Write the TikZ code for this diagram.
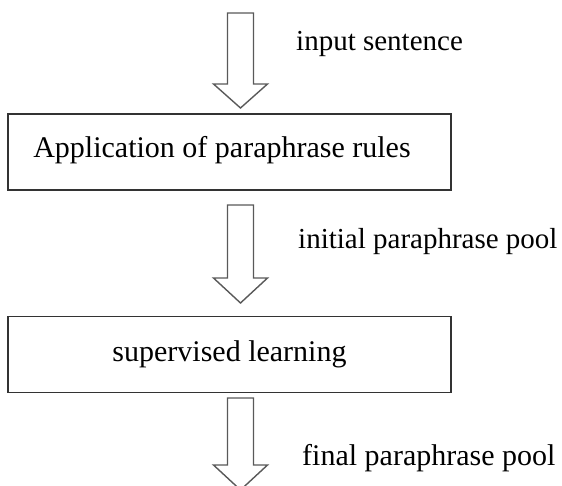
\documentclass[tikz,border=0pt]{standalone}
\usepackage{fontspec}
\setmainfont{Liberation Serif}
\begin{document}
\begin{tikzpicture}[x=1pt,y=-1pt,
  box/.style={draw=black!80,line width=1.8pt,minimum width=443pt,minimum height=76pt,inner sep=0pt,font=\fontsize{30}{36}\selectfont},
  lbl/.style={anchor=base west,inner sep=0pt,font=\fontsize{29}{35}\selectfont},
  barrow/.style={draw=black!65,line width=1.4pt,line join=miter,fill=white}]
\useasboundingbox (0,0) rectangle (562,485);
\node[box] (b1) at (229.5,152) {};
\node[inner sep=0pt,font=\fontsize{30}{36}\selectfont] (t1) at (222,150) {Application of paraphrase rules};
\node[box] (b2) at (229.5,354.5) {supervised learning};
% block arrows
\draw[barrow] (227.5,13) -- (253.5,13) -- (253.5,84) -- (267.5,84) -- (240.5,108) -- (213.5,84) -- (227.5,84) -- cycle;
\draw[barrow] (227.5,205) -- (253.5,205) -- (253.5,278) -- (267.5,278) -- (240.5,303) -- (213.5,278) -- (227.5,278) -- cycle;
\draw[barrow] (227.5,398) -- (253.5,398) -- (253.5,465) -- (267.5,465) -- (240.5,490) -- (213.5,465) -- (227.5,465) -- cycle;
\node[lbl] (l1) at (296,50) {input sentence};
\node[lbl] (l2) at (298,248) {initial paraphrase pool};
\node[lbl,font=\fontsize{30}{36}\selectfont] (l3) at (302,465) {final paraphrase pool};
\end{tikzpicture}
\end{document}
